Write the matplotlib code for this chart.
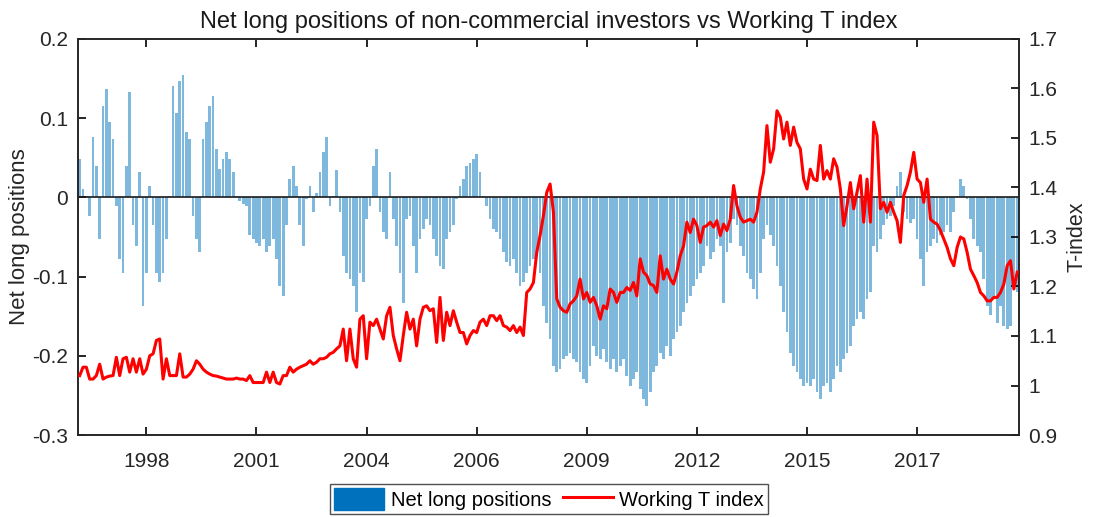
import numpy as np
import matplotlib.pyplot as plt
from matplotlib.patches import Patch
from matplotlib.lines import Line2D

plt.rcParams['font.family'] = ['Liberation Sans', 'DejaVu Sans']

net_long = [
    0.048, 0.011, 0.002, -0.023, 0.076, 0.04, -0.053, 0.116, 0.137, 0.095,
    0.074, -0.011, -0.078, -0.095, 0.04, 0.133, -0.035, -0.061, 0.032, -0.137,
    -0.095, 0.015, -0.035, -0.095, -0.107, -0.095, -0.053, 0.002, 0.141, 0.107,
    0.147, 0.154, 0.082, 0.074, -0.023, -0.053, -0.069, 0.074, 0.095, 0.116,
    0.128, 0.061, 0.036, 0.048, 0.057, 0.048, 0.032, 0.002, -0.004, -0.008,
    -0.011, -0.048, -0.053, -0.057, -0.061, -0.053, -0.069, -0.061, -0.053, -0.078,
    -0.112, -0.124, -0.035, 0.023, 0.04, 0.015, -0.035, -0.061, -0.002, 0.015,
    -0.019, 0.006, 0.032, 0.057, 0.076, -0.011, 0.002, 0.034, -0.019, -0.074,
    -0.095, -0.103, -0.112, -0.145, -0.095, -0.107, -0.027, -0.011, 0.04, 0.061,
    -0.019, -0.044, -0.053, 0.032,
    -0.027, -0.061, -0.095, -0.133, -0.027, -0.023, -0.061, -0.095, -0.053, -0.04,
    -0.027, -0.035, -0.053, -0.074, -0.086, -0.09, -0.053, -0.044, -0.035, -0.002,
    0.015, 0.023, 0.04, 0.044, 0.048, 0.055, 0.032, 0.002, -0.011, -0.027,
    -0.04, -0.044, -0.053, -0.069, -0.082, -0.086, -0.078, -0.095, -0.112, -0.107,
    -0.095, -0.086, -0.078, -0.074, -0.095, -0.137, -0.158, -0.179, -0.213, -0.221,
    -0.217, -0.204, -0.2, -0.196, -0.204, -0.208, -0.221, -0.229, -0.234, -0.213,
    -0.187, -0.2, -0.204, -0.192, -0.208, -0.217, -0.204, -0.221, -0.213, -0.204,
    -0.225, -0.238, -0.229, -0.221, -0.242, -0.255, -0.263, -0.246, -0.221, -0.213,
    -0.196, -0.204, -0.187, -0.2, -0.179, -0.17, -0.162, -0.145, -0.133, -0.124,
    -0.112, -0.103, -0.095, -0.086,
    -0.061, -0.078, -0.069, -0.053, -0.061, -0.133, -0.069, -0.057, -0.027, -0.035,
    -0.061, -0.074, -0.095, -0.103, -0.116, -0.128, -0.095, -0.053, -0.035, -0.048,
    -0.061, -0.086, -0.112, -0.145, -0.17, -0.196, -0.213, -0.221, -0.229, -0.238,
    -0.234, -0.238, -0.229, -0.246, -0.255, -0.238, -0.234, -0.246, -0.229, -0.213,
    -0.221, -0.204, -0.196, -0.187, -0.162, -0.154, -0.145, -0.154, -0.128, -0.12,
    -0.061, -0.069, -0.053, -0.035, -0.027, -0.023, -0.011, 0.015, 0.032, -0.019,
    -0.027, -0.032, -0.027, -0.053, -0.078, -0.112, -0.069, -0.061, -0.053, -0.057,
    -0.048, -0.044, -0.035, -0.044, -0.019, 0.002, 0.023, 0.015, -0.002, -0.027,
    -0.053, -0.061, -0.069, -0.103, -0.137, -0.149, -0.128, -0.158, -0.137, -0.162,
    -0.166, -0.162, -0.112, -0.12,
]

t_index = [
    1.02, 1.037, 1.037, 1.013, 1.013, 1.02, 1.043, 1.013, 1.017, 1.019,
    1.02, 1.057, 1.02, 1.054, 1.057, 1.027, 1.054, 1.027, 1.054, 1.023,
    1.033, 1.06, 1.064, 1.091, 1.094, 1.013, 1.054, 1.02, 1.02, 1.02,
    1.064, 1.017, 1.017, 1.023, 1.033, 1.05, 1.043, 1.033, 1.027, 1.023,
    1.02, 1.019, 1.017, 1.015, 1.013, 1.013, 1.013, 1.015, 1.013, 1.013,
    1.01, 1.02, 1.006, 1.006, 1.006, 1.006, 1.027, 1.006, 1.027, 1.006,
    1.003, 1.02, 1.02, 1.037, 1.027, 1.033, 1.037, 1.04, 1.043, 1.05,
    1.043, 1.047, 1.054, 1.054, 1.057, 1.064, 1.067, 1.074, 1.08, 1.114,
    1.05, 1.114, 1.054, 1.037, 1.134, 1.141, 1.054, 1.128, 1.121, 1.134,
    1.114, 1.094, 1.141, 1.158,
    1.101, 1.074, 1.05, 1.101, 1.148, 1.114, 1.134, 1.08, 1.134, 1.158,
    1.161, 1.151, 1.155, 1.087, 1.178, 1.091, 1.148, 1.121, 1.151, 1.128,
    1.107, 1.107, 1.084, 1.101, 1.111, 1.107, 1.128, 1.134, 1.121, 1.141,
    1.141, 1.131, 1.141, 1.121, 1.118, 1.111, 1.121, 1.107, 1.118, 1.101,
    1.188, 1.195, 1.208, 1.269, 1.303, 1.343, 1.39, 1.407, 1.35, 1.175,
    1.158, 1.151, 1.148, 1.165, 1.171, 1.181, 1.215, 1.175, 1.188, 1.168,
    1.178, 1.161, 1.134, 1.161, 1.155, 1.195, 1.188, 1.168, 1.188, 1.188,
    1.198, 1.192, 1.208, 1.181, 1.256, 1.229, 1.222, 1.205, 1.202, 1.188,
    1.262, 1.215, 1.235, 1.215, 1.205, 1.229, 1.262, 1.282, 1.33, 1.309,
    1.336, 1.323, 1.289, 1.32,
    1.323, 1.33, 1.32, 1.333, 1.303, 1.326, 1.313, 1.336, 1.404, 1.363,
    1.34, 1.33, 1.333, 1.336, 1.33, 1.35, 1.397, 1.431, 1.525, 1.451,
    1.478, 1.555, 1.542, 1.498, 1.532, 1.485, 1.522, 1.491, 1.478, 1.417,
    1.397, 1.437, 1.417, 1.414, 1.485, 1.417, 1.434, 1.417, 1.458, 1.441,
    1.397, 1.323, 1.363, 1.41, 1.357, 1.39, 1.424, 1.33, 1.417, 1.33,
    1.532, 1.505, 1.357, 1.37, 1.35, 1.37, 1.35, 1.333, 1.289, 1.384,
    1.404, 1.431, 1.471, 1.417, 1.41, 1.37, 1.417, 1.336, 1.33, 1.326,
    1.313, 1.296, 1.279, 1.256, 1.242, 1.279, 1.3, 1.296, 1.269, 1.235,
    1.222, 1.208, 1.188, 1.181, 1.171, 1.171, 1.178, 1.178, 1.188, 1.205,
    1.242, 1.252, 1.195, 1.229,
]

tick_years = ['1998', '2001', '2004', '2006', '2009', '2012', '2015', '2017']
first_tick, tick_step = 20, 33

blue = '#0072BD'
red = '#FF0000'
txt = '#262626'

x = np.arange(len(net_long))

fig = plt.figure(figsize=(10.94, 5.17), dpi=100)
ax = fig.add_axes([0.0713, 0.1586, 0.86, 0.766])
ax.bar(x, net_long, width=0.82, color=blue, alpha=0.5, linewidth=0)
ax.axhline(0, color='#1a1a1a', linewidth=1.2, zorder=3)
ax.set_xlim(-0.5, len(net_long) - 0.5)
ax.set_ylim(-0.3, 0.2)
ax.set_yticks([-0.3, -0.2, -0.1, 0, 0.1, 0.2])
ax.set_yticklabels(['-0.3', '-0.2', '-0.1', '0', '0.1', '0.2'])
ax.set_xticks(first_tick + tick_step * np.arange(len(tick_years)))
ax.set_xticklabels(tick_years)
ax.set_ylabel('Net long positions', fontsize=16, color=txt, labelpad=2)
ax.tick_params(direction='in', length=6, width=1.2, labelsize=15,
               labelcolor=txt, top=True, pad=7)
ax.tick_params(axis='x', pad=12)

ax2 = ax.twinx()
ax2.plot(x, t_index, color=red, linewidth=2.2, zorder=4)
ax2.set_ylim(0.9, 1.7)
ax2.set_yticks([0.9, 1.0, 1.1, 1.2, 1.3, 1.4, 1.5, 1.6, 1.7])
ax2.set_yticklabels(['0.9', '1', '1.1', '1.2', '1.3', '1.4', '1.5', '1.6', '1.7'])
ax2.set_ylabel('T-index', fontsize=15.5, color=txt, labelpad=6)
ax2.tick_params(direction='in', length=6, width=1.2, labelsize=15,
                labelcolor=txt, pad=7)

for a in (ax, ax2):
    for s in a.spines.values():
        s.set_linewidth(1.2)
        s.set_color('#262626')

ax.set_title('Net long positions of non-commercial investors vs Working T index',
             fontsize=17, color='#1a1a1a', pad=8)

handles = [Patch(facecolor=blue, edgecolor=blue),
           Line2D([0], [0], color=red, linewidth=2.2)]
fig.legend(handles, ['Net long positions', 'Working T index'], loc='center',
           bbox_to_anchor=(0.502, 0.035), ncol=2, fontsize=14.5, frameon=True,
           fancybox=False, edgecolor='#262626', handlelength=2.5,
           handleheight=1.3, handletextpad=0.3, columnspacing=0.6,
           borderpad=0.2, borderaxespad=0.0)

fig.savefig('out.png', dpi=100)
